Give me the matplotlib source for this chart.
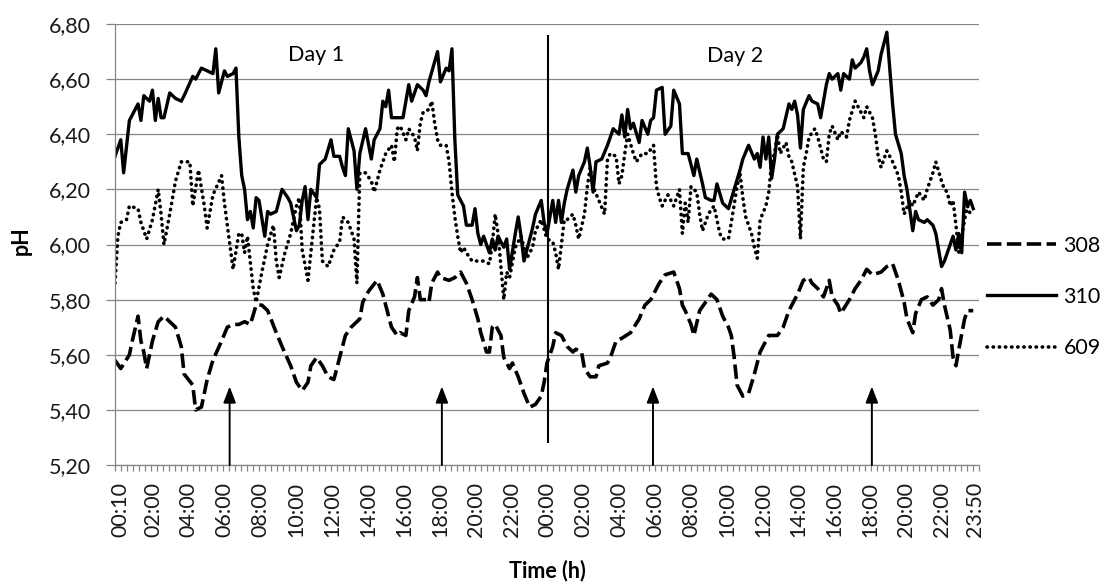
import matplotlib
matplotlib.use("Agg")
import matplotlib.pyplot as plt
from matplotlib.ticker import FixedLocator
import numpy as np

plt.rcParams['font.family'] = ['Lato', 'DejaVu Sans']

# ---------------- data (sample position along the time axis, pH) ----------------
ph_308 = [(0,5.58),(2,5.55),(5,5.60),(6,5.65),(8,5.74),(9,5.65),(10,5.61),(11,5.55),(13,5.65),(15,5.72),
          (17,5.74),(19,5.72),(21,5.70),(23,5.63),(24,5.53),(27,5.49),(28,5.40),(30,5.41),(32,5.51),(34,5.58),
          (37,5.65),(39,5.70),(41,5.71),(43,5.71),(45,5.72),(47,5.71),(49,5.78),(51,5.78),(53,5.76),(56,5.68),
          (58,5.63),(61,5.56),(63,5.50),(65,5.47),(67,5.50),(68,5.56),(70,5.59),(72,5.56),(74,5.52),(76,5.51),
          (78,5.59),(80,5.67),(82,5.70),(85,5.73),(86,5.79),(88,5.83),(91,5.87),(93,5.82),(94,5.78),(96,5.70),
          (98,5.67),(99,5.68),(101,5.67),(102,5.76),(104,5.81),(105,5.88),(106,5.80),(108,5.80),(109,5.79),(110,5.86),
          (112,5.90),(113,5.88),(116,5.87),(118,5.88),(120,5.90),(122,5.86),(124,5.80),(126,5.73),(127,5.68),(129,5.61),
          (130,5.61),(131,5.70),(132,5.71),(134,5.67),(135,5.59),(137,5.55),(138,5.57),(140,5.52),(142,5.46),(144,5.41),
          (146,5.42),(148,5.45),(149,5.50),(150,5.57),(152,5.63),(153,5.68),(155,5.67),(157,5.63),(159,5.61),(160,5.62),
          (162,5.61),(163,5.55),(165,5.52),(167,5.52),(168,5.56),(171,5.57),(172,5.59),(174,5.65),(176,5.66),(179,5.68),
          (182,5.73),(184,5.78),(186,5.80),(189,5.86),(191,5.89),(194,5.90),(196,5.84),(197,5.78),(198,5.76),(200,5.71),
          (201,5.67),(203,5.76),(205,5.79),(207,5.82),(209,5.80),(211,5.74),(213,5.70),(214,5.67),(215,5.59),(216,5.49),
          (218,5.45),(220,5.46),(222,5.53),(224,5.61),(226,5.65),(227,5.67),(230,5.67),(232,5.70),(234,5.76),(237,5.82),
          (239,5.87),(241,5.88),(242,5.86),(244,5.84),(246,5.81),(248,5.87),(249,5.81),(251,5.78),(252,5.75),(255,5.80),
          (257,5.84),(259,5.87),(261,5.91),(263,5.89),(266,5.90),(268,5.92),(270,5.93),(272,5.87),(274,5.79),(275,5.73),
          (277,5.68),(278,5.75),(280,5.80),(282,5.81),(284,5.78),(286,5.80),(287,5.84),(288,5.78),(290,5.69),(291,5.59),
          (292,5.56),(293,5.62),(295,5.73),(296,5.76),(298,5.76)]

ph_310 = [(0,6.32),(2,6.38),(3,6.26),(5,6.45),(8,6.51),(9,6.45),(10,6.54),(12,6.52),(13,6.56),(14,6.45),
          (15,6.53),(16,6.46),(17,6.46),(19,6.55),(21,6.53),(23,6.52),(24,6.54),(27,6.61),(28,6.60),(30,6.64),
          (32,6.63),(34,6.62),(35,6.71),(36,6.55),(38,6.63),(39,6.61),(41,6.62),(42,6.64),(43,6.39),(44,6.25),
          (45,6.20),(46,6.09),(47,6.12),(48,6.06),(49,6.17),(50,6.16),(52,6.03),(53,6.12),(54,6.11),(56,6.12),
          (57,6.16),(58,6.20),(60,6.17),(61,6.15),(63,6.05),(64,6.07),(65,6.16),(66,6.21),(67,6.09),(68,6.20),
          (70,6.17),(71,6.29),(73,6.31),(75,6.38),(76,6.32),(78,6.32),(79,6.28),(80,6.25),(81,6.42),(83,6.34),
          (84,6.20),(85,6.33),(87,6.42),(89,6.31),(90,6.38),(92,6.42),(93,6.52),(94,6.50),(95,6.56),(96,6.46),
          (98,6.46),(100,6.46),(102,6.58),(103,6.52),(105,6.58),(107,6.56),(108,6.54),(109,6.59),(112,6.70),(113,6.59),
          (115,6.64),(116,6.63),(117,6.71),(118,6.38),(119,6.18),(121,6.14),(122,6.07),(124,6.07),(125,6.13),(126,6.04),
          (127,6.00),(128,6.03),(130,5.97),(131,6.02),(132,5.98),(133,6.03),(135,5.99),(136,6.02),(137,5.91),(139,6.04),
          (140,6.10),(141,6.03),(142,5.94),(143,5.98),(145,6.06),(146,6.11),(148,6.16),(149,6.08),(150,6.04),(152,6.16),
          (153,6.08),(154,6.16),(155,6.08),(156,6.15),(157,6.20),(159,6.27),(160,6.19),(161,6.25),(163,6.30),(164,6.35),
          (165,6.28),(166,6.19),(167,6.30),(169,6.31),(171,6.36),(173,6.42),(175,6.40),(176,6.47),(177,6.39),(178,6.49),
          (179,6.42),(180,6.44),(182,6.37),(183,6.45),(185,6.40),(186,6.45),(187,6.46),(188,6.56),(190,6.57),(191,6.40),
          (193,6.43),(194,6.56),(196,6.51),(197,6.33),(199,6.33),(201,6.25),(202,6.31),(204,6.22),(205,6.17),(207,6.16),
          (208,6.16),(209,6.22),(211,6.15),(212,6.14),(213,6.13),(215,6.20),(217,6.27),(218,6.31),(220,6.36),(222,6.31),
          (223,6.33),(224,6.28),(225,6.39),(226,6.31),(227,6.39),(228,6.24),(229,6.31),(230,6.40),(232,6.42),(234,6.51),
          (235,6.49),(236,6.52),(237,6.47),(238,6.35),(239,6.49),(241,6.54),(242,6.52),(244,6.51),(245,6.46),(247,6.58),
          (248,6.62),(249,6.60),(251,6.62),(252,6.56),(253,6.62),(255,6.60),(256,6.67),(257,6.64),(259,6.66),(260,6.68),
          (261,6.71),(262,6.63),(263,6.58),(265,6.63),(266,6.69),(268,6.77),(270,6.51),(271,6.40),(273,6.33),(274,6.25),
          (275,6.20),(277,6.05),(278,6.12),(279,6.09),(281,6.08),(282,6.09),(284,6.07),(285,6.04),(287,5.92),(288,5.94),
          (290,6.00),(291,6.03),(292,5.98),(293,6.04),(294,5.97),(295,6.19),(296,6.14),(297,6.16),(298,6.13)]

ph_609 = [(0,5.86),(1,6.03),(2,6.08),(4,6.09),(5,6.14),(8,6.13),(9,6.08),(11,6.02),(13,6.09),(15,6.20),
          (16,6.11),(17,6.00),(19,6.11),(21,6.23),(23,6.30),(26,6.30),(27,6.14),(29,6.27),(31,6.14),(32,6.06),
          (34,6.18),(37,6.25),(38,6.15),(40,5.99),(41,5.91),(43,6.04),(44,6.04),(45,5.97),(46,6.03),(48,5.84),
          (49,5.79),(51,5.90),(53,6.00),(55,6.07),(56,5.94),(57,5.88),(59,5.97),(61,6.04),(63,6.14),(64,6.17),
          (65,5.98),(67,5.87),(68,5.97),(70,6.17),(71,6.13),(72,5.94),(74,5.92),(76,5.98),(78,6.01),(79,6.10),
          (81,6.08),(83,6.02),(84,5.86),(85,6.26),(87,6.26),(89,6.23),(90,6.19),(92,6.27),(94,6.33),(96,6.36),
          (97,6.30),(98,6.42),(99,6.43),(101,6.38),(102,6.42),(104,6.39),(105,6.34),(106,6.44),(107,6.48),(109,6.49),
          (110,6.52),(111,6.44),(112,6.38),(113,6.36),(115,6.36),(116,6.30),(117,6.19),(118,6.10),(119,6.03),(120,5.97),
          (121,5.99),(122,5.97),(124,5.94),(126,5.94),(128,5.94),(130,5.93),(131,6.00),(132,6.11),(133,6.04),(134,5.92),
          (135,5.80),(136,5.90),(137,5.88),(139,5.99),(141,6.03),(143,5.95),(145,5.99),(146,6.05),(148,6.09),(150,6.02),
          (152,6.01),(153,5.97),(154,5.91),(155,6.00),(156,6.09),(157,6.09),(159,6.11),(160,6.07),(161,6.02),(163,6.11),
          (164,6.21),(165,6.28),(166,6.21),(168,6.16),(170,6.11),(171,6.31),(172,6.33),(174,6.32),(175,6.22),(176,6.25),
          (177,6.33),(178,6.40),(180,6.33),(181,6.30),(183,6.33),(185,6.33),(187,6.36),(188,6.21),(189,6.17),(190,6.14),
          (192,6.18),(194,6.14),(196,6.20),(197,6.04),(198,6.15),(199,6.08),(200,6.21),(202,6.19),(203,6.11),(204,6.05),
          (206,6.11),(208,6.14),(209,6.09),(210,6.04),(211,6.02),(213,6.02),(214,6.08),(216,6.21),(217,6.26),(218,6.17),
          (219,6.10),(221,6.04),(222,5.99),(223,5.95),(224,6.09),(226,6.14),(227,6.19),(228,6.30),(229,6.33),(230,6.40),
          (231,6.33),(233,6.37),(234,6.32),(235,6.30),(237,6.21),(238,6.02),(239,6.28),(240,6.33),(241,6.39),(243,6.42),
          (244,6.39),(246,6.31),(247,6.30),(248,6.40),(249,6.43),(251,6.38),(252,6.41),(254,6.39),(255,6.45),(257,6.52),
          (259,6.48),(260,6.46),(261,6.50),(263,6.46),(264,6.40),(265,6.32),(266,6.28),(268,6.34),(269,6.32),(270,6.30),
          (272,6.25),(273,6.19),(274,6.11),(276,6.16),(277,6.14),(279,6.19),(281,6.16),(282,6.20),(284,6.26),(285,6.30),
          (287,6.23),(288,6.20),(289,6.19),(290,6.14),(291,6.16),(292,6.07),(293,5.97),(295,6.09),(296,6.14),(297,6.11)]

series_names = ['308', '310', '609']

tick_labels = ['00:10', '02:00', '04:00', '06:00', '08:00', '10:00', '12:00', '14:00', '16:00', '18:00',
               '20:00', '22:00', '00:00', '02:00', '04:00', '06:00', '08:00', '10:00', '12:00', '14:00',
               '16:00', '18:00', '20:00', '22:00', '23:50']
# category number (10-min steps from 00:10 of day 1) of each labelled tick
tick_cats = [0, 11, 23, 35, 47, 59, 71, 83, 95, 107, 119, 131, 143, 155, 167, 179, 191, 203,
             215, 227, 239, 251, 263, 275, 286]

y_ticks = [5.20, 5.40, 5.60, 5.80, 6.00, 6.20, 6.40, 6.60, 6.80]

# ---------------- figure ----------------
W, H = 1106, 585
fig = plt.figure(figsize=(W / 100, H / 100), dpi=100)
ax = fig.add_axes([115 / W, 1 - 465 / H, 864 / W, 441 / H])

grey = '#868686'

x, y = zip(*ph_308)
l308, = ax.plot(x, y, color='black', lw=2.6, linestyle=(0, (4.0, 1.5)), dash_capstyle='butt')
x, y = zip(*ph_310)
l310, = ax.plot(x, y, color='black', lw=2.4, solid_joinstyle='round')
x, y = zip(*ph_609)
l609, = ax.plot(x, y, color='black', lw=2.6, linestyle=(0, (0.1, 1.6)), dash_capstyle='round')

ax.set_xlim(0, 300)
ax.set_ylim(5.20, 6.80)

# y axis
ax.set_yticks(y_ticks)
ax.set_yticklabels([f"{v:.2f}".replace('.', ',') for v in y_ticks])
ax.yaxis.grid(True, color=grey, lw=0.9)
ax.set_axisbelow(True)
ax.tick_params(axis='y', length=6.5, width=0.9, color=grey, labelsize=15.5, pad=11, labelcolor='#1a1a1a')

# x axis (category axis)
pos = [(5 + 2.99 * k) / 2.88 for k in tick_cats]
ax.xaxis.set_major_locator(FixedLocator(pos))
ax.set_xticklabels(tick_labels, rotation=90)
ax.tick_params(axis='x', which='major', length=0, labelsize=15.5, pad=12, labelcolor='#1a1a1a')
ax.xaxis.set_minor_locator(FixedLocator(np.arange(0, 300.01, 6 / 2.88)))
ax.tick_params(axis='x', which='minor', length=4.5, width=0.9, color=grey)

for s in ['top', 'right']:
    ax.spines[s].set_visible(False)
for s in ['left', 'bottom']:
    ax.spines[s].set_color(grey)
    ax.spines[s].set_linewidth(0.9)

ax.set_xlabel('Time (h)', fontsize=15.5, fontweight='bold')
ax.xaxis.set_label_coords(0.5, -0.215)
ax.set_ylabel('pH', fontsize=15.5, fontweight='bold')
ax.yaxis.set_label_coords(-0.096, 0.508)

# annotations
ax.text(0.233, 0.930, 'Day 1', transform=ax.transAxes, ha='center', va='center', fontsize=15.5)
ax.text(0.718, 0.927, 'Day 2', transform=ax.transAxes, ha='center', va='center', fontsize=15.5)
ax.vlines(150.2, 5.28, 6.76, color='black', lw=1.5)
for xa in [39.8, 113.5, 186.8, 262.8]:
    ax.annotate('', xy=(xa, 5.485), xytext=(xa, 5.20),
                arrowprops=dict(arrowstyle='-|>,head_length=0.65,head_width=0.25',
                                color='black', lw=1.4, mutation_scale=15,
                                shrinkA=0, shrinkB=0))

ax.legend([l308, l310, l609], series_names, loc='center left',
          bbox_to_anchor=(987 / W, 1 - 297 / H), bbox_transform=fig.transFigure,
          frameon=False, fontsize=15.5, handlelength=3.2, handletextpad=0.35,
          labelspacing=1.45, borderpad=0, borderaxespad=0)

fig.savefig('out.png', dpi=100)
